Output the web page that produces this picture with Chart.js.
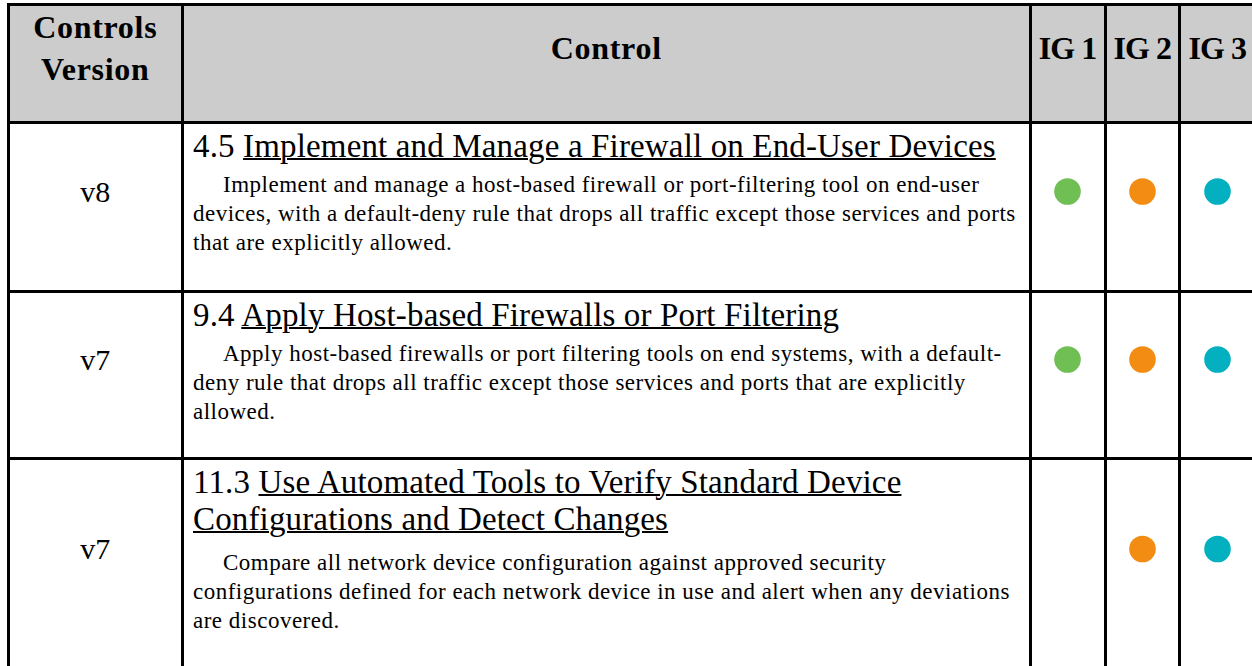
<!DOCTYPE html>
<html>
<head>
<meta charset="utf-8">
<script src="https://cdn.jsdelivr.net/npm/chart.js@4/dist/chart.umd.min.js"></script>
<style>
body{margin:0;background:#fff;color:#000;font-family:"Liberation Serif","Times New Roman",serif;width:1252px;height:666px;overflow:hidden;}
#wrap{position:absolute;left:6.5px;top:2.5px;}
table{border-collapse:collapse;table-layout:fixed;width:1247px;}
td,th{border:3px solid #000;padding:0;}
th{background:#cccccc;font-weight:bold;font-size:32px;line-height:42px;vertical-align:middle;padding-bottom:30px;text-align:center;letter-spacing:0.7px;}
th.ig{letter-spacing:-1px;}
td.ver{font-size:30px;text-align:center;vertical-align:middle;padding-bottom:30px;}
td.desc{vertical-align:top;padding:4px 0 0 9px;white-space:nowrap;}
.tit{font-size:33px;letter-spacing:0.15px;line-height:37px;}
.tit.multi{padding-bottom:5px;}
.tit span{text-decoration:underline;text-decoration-thickness:2px;}
.txt{font-size:23px;letter-spacing:0.5px;line-height:29px;text-indent:30px;margin-top:5px;}
.caja{position:absolute;}
</style>
</head>
<body>
<div id="wrap">
<table id="tabla">
<colgroup><col style="width:174.5px"><col style="width:847.5px"><col style="width:75px"><col style="width:74.5px"><col style="width:75.5px"></colgroup>
<thead><tr style="height:118px" id="cabecera"></tr></thead>
<tbody id="cuerpo"></tbody>
</table>
</div>
<script>
const encabezados = ['Controls<br>Version', 'Control']
const ig_labels = ['IG 1', 'IG 2', 'IG 3']
const ig_colores = ['#70bf54', '#f28c12', '#02b0c0']

const versiones = ['v8', 'v7', 'v7']
const numeros = ['4.5', '9.4', '11.3']
const titulos = [
    ['Implement and Manage a Firewall on End-User Devices'],
    ['Apply Host-based Firewalls or Port Filtering'],
    ['Use Automated Tools to Verify Standard Device', 'Configurations and Detect Changes']
]
const descripciones = [
    ['Implement and manage a host-based firewall or port-filtering tool on end-user',
     'devices, with a default-deny rule that drops all traffic except those services and ports',
     'that are explicitly allowed.'],
    ['Apply host-based firewalls or port filtering tools on end systems, with a default-',
     'deny rule that drops all traffic except those services and ports that are explicitly',
     'allowed.'],
    ['Compare all network device configuration against approved security',
     'configurations defined for each network device in use and alert when any deviations',
     'are discovered.']
]
// 1 = el control aplica al grupo
const ig1 = [1, 1, 0]
const ig2 = [1, 1, 1]
const ig3 = [1, 1, 1]
const alturas = [169, 167, 212]

const cabecera = document.getElementById('cabecera')
const cuerpo = document.getElementById('cuerpo')

cabecera.innerHTML = encabezados.map(t => `<th>${t}</th>`).join('') +
    ig_labels.map(t => `<th class="ig">${t}</th>`).join('')

for (let i = 0; i < versiones.length; i++) {
    const tr = document.createElement('tr')
    tr.style.height = alturas[i] + 'px'
    const multi = titulos[i].length > 1 ? ' multi' : ''
    tr.innerHTML = `<td class="ver">${versiones[i]}</td>
        <td class="desc"><div class="tit${multi}">${numeros[i]} <span>${titulos[i].join('<br>')}</span></div>
        <div class="txt">${descripciones[i].join('<br>')}</div></td>
        <td class="ig"></td><td class="ig"></td><td class="ig"></td>`
    cuerpo.appendChild(tr)
}

function generar_grafica(fila, i) {
    const wrap = document.getElementById('wrap').getBoundingClientRect()
    const celdas = fila.querySelectorAll('td.ig')
    const r1 = celdas[0].getBoundingClientRect()
    const r3 = celdas[2].getBoundingClientRect()
    const rf = fila.getBoundingClientRect()

    const caja = document.createElement('div')
    caja.className = 'caja'
    caja.style.left = (r1.left - wrap.left) + 'px'
    caja.style.top = (rf.top - wrap.top) + 'px'
    caja.style.width = (r3.right - r1.left) + 'px'
    caja.style.height = (rf.height - 30) + 'px'
    const canvas = document.createElement('canvas')
    caja.appendChild(canvas)
    document.getElementById('wrap').appendChild(caja)

    const grupos = [ig1, ig2, ig3]
    const datasets = ig_labels.map((ig, j) => ({
        label: ig,
        data: grupos[j][i] ? [{ x: ig, y: 0 }] : [],
        backgroundColor: ig_colores[j],
        pointRadius: 13.3,
        pointHoverRadius: 13.3,
        borderWidth: 0
    }))

    new Chart(canvas, {
        type: 'scatter',
        data: { labels: ig_labels, datasets: datasets },
        options: {
            responsive: true,
            maintainAspectRatio: false,
            animation: false,
            events: [],
            layout: { padding: 0, autoPadding: false },
            plugins: { legend: { display: false }, tooltip: { enabled: false } },
            scales: {
                x: { type: 'category', labels: ig_labels, offset: true, display: false },
                y: { min: -1, max: 1, display: false }
            }
        }
    })
}

cuerpo.querySelectorAll('tr').forEach((fila, i) => generar_grafica(fila, i))
</script>
</body>
</html>
